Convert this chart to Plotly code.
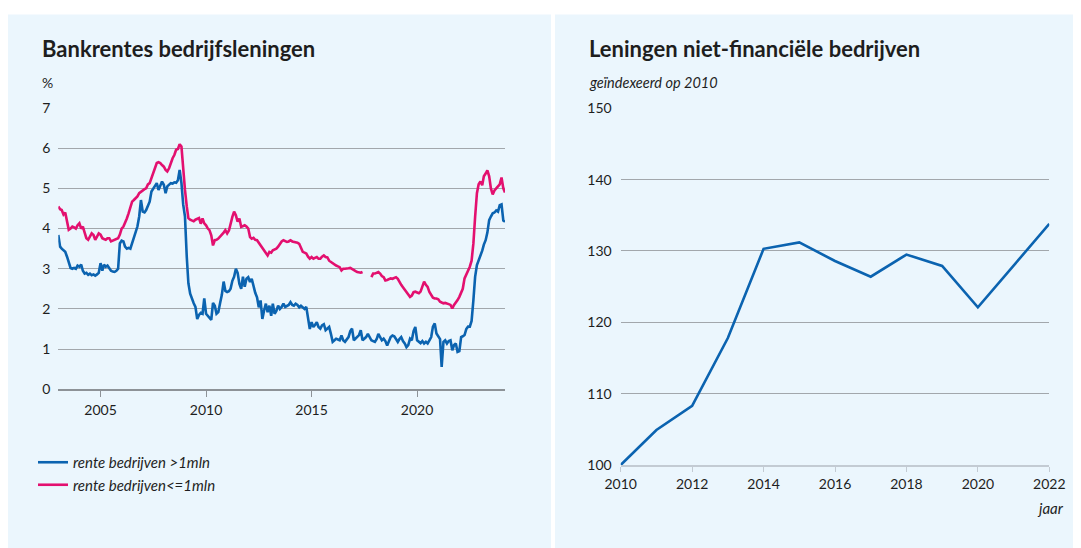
import pandas as pd
import plotly.graph_objects as go

# ---------------- data ----------------
# Left chart: monthly bank rates on business loans (%), Jan 2003 - Mar 2024
months = pd.date_range("2003-01-01", "2024-03-01", freq="MS")

rate_large = [  # rente bedrijven >1mln
    3.84, 3.55, 3.50, 3.45, 3.42, 3.30, 3.15, 3.02, 3.00, 3.02, 3.00, 3.08,  # 2003
    3.05, 3.10, 2.95, 2.88, 2.90, 2.85, 2.88, 2.84, 2.86, 2.83, 2.86, 2.90,  # 2004
    3.14, 2.95, 3.10, 3.05, 3.08, 3.00, 2.95, 2.93, 2.92, 2.95, 3.00, 3.63,  # 2005
    3.70, 3.68, 3.55, 3.50, 3.52, 3.50, 3.65, 3.80, 3.95, 4.05, 4.30, 4.71,  # 2006
    4.42, 4.40, 4.46, 4.55, 4.67, 4.92, 5.00, 5.05, 5.13, 4.96, 5.05, 5.17,  # 2007
    5.09, 4.88, 5.05, 5.10, 5.13, 5.12, 5.15, 5.14, 5.20, 5.46, 5.13, 4.60,  # 2008
    4.30, 3.30, 2.64, 2.38, 2.25, 2.14, 2.05, 1.75, 1.85, 1.90, 1.88, 2.26,  # 2009
    1.88, 1.82, 1.79, 1.73, 2.15, 2.08, 1.88, 1.92, 2.15, 2.35, 2.68, 2.45,  # 2010
    2.42, 2.44, 2.50, 2.70, 2.80, 3.00, 2.90, 2.62, 2.50, 2.80, 2.55, 2.75,  # 2011
    2.79, 2.67, 2.75, 2.54, 2.40, 2.29, 2.04, 2.21, 1.75, 1.96, 2.13, 1.92,  # 2012
    2.08, 1.83, 2.13, 1.88, 1.95, 2.08, 2.00, 2.05, 2.13, 2.05, 2.08, 2.10,  # 2013
    2.17, 2.10, 2.08, 2.13, 2.10, 2.04, 2.08, 2.05, 2.00, 2.05, 1.70, 1.50,  # 2014
    1.67, 1.55, 1.60, 1.67, 1.55, 1.51, 1.59, 1.62, 1.47, 1.50, 1.55, 1.38,  # 2015
    1.18, 1.22, 1.26, 1.24, 1.22, 1.34, 1.22, 1.18, 1.25, 1.30, 1.45, 1.51,  # 2016
    1.22, 1.26, 1.30, 1.35, 1.47, 1.22, 1.26, 1.30, 1.38, 1.30, 1.22, 1.20,  # 2017
    1.18, 1.25, 1.38, 1.30, 1.22, 1.26, 1.20, 1.09, 1.20, 1.30, 1.34, 1.32,  # 2018
    1.25, 1.18, 1.25, 1.30, 1.20, 1.14, 1.05, 1.10, 1.26, 1.22, 1.45, 1.55,  # 2019
    1.22, 1.18, 1.15, 1.20, 1.14, 1.18, 1.14, 1.22, 1.30, 1.56, 1.64, 1.39,  # 2020
    1.30, 1.25, 0.56, 1.18, 1.22, 1.14, 1.20, 1.22, 0.97, 1.10, 1.14, 0.93,  # 2021
    0.95, 1.30, 1.32, 1.35, 1.50, 1.56, 1.56, 1.70, 2.22, 2.80, 3.09, 3.20,  # 2022
    3.30, 3.45, 3.60, 3.71, 3.90, 4.21, 4.30, 4.38, 4.40, 4.45, 4.42, 4.58,  # 2023
    4.60, 4.20, 4.17,                                                        # 2024
]

rate_small = [  # rente bedrijven <=1mln
    4.55, 4.48, 4.46, 4.35, 4.40, 4.13, 3.97, 4.00, 4.05, 4.03, 4.00, 4.08,  # 2003
    4.13, 4.00, 4.05, 3.90, 3.76, 3.72, 3.80, 3.88, 3.84, 3.72, 3.80, 3.88,  # 2004
    3.85, 3.76, 3.74, 3.72, 3.76, 3.76, 3.68, 3.70, 3.72, 3.72, 3.76, 3.85,  # 2005
    4.00, 4.05, 4.13, 4.25, 4.38, 4.50, 4.67, 4.71, 4.75, 4.80, 4.88, 4.92,  # 2006
    4.96, 4.98, 5.00, 5.10, 5.13, 5.25, 5.38, 5.50, 5.63, 5.65, 5.63, 5.58,  # 2007
    5.54, 5.46, 5.42, 5.50, 5.63, 5.75, 5.83, 5.96, 5.98, 6.10, 6.04, 5.46,  # 2008
    4.96, 4.55, 4.26, 4.22, 4.20, 4.18, 4.22, 4.25, 4.26, 4.12, 4.25, 4.13,  # 2009
    4.08, 4.00, 3.96, 3.83, 3.58, 3.71, 3.72, 3.75, 3.80, 3.83, 3.90, 3.96,  # 2010
    3.88, 3.95, 4.13, 4.29, 4.42, 4.33, 4.17, 4.25, 4.04, 4.06, 4.08, 4.05,  # 2011
    4.00, 3.79, 3.75, 3.77, 3.72, 3.71, 3.65, 3.58, 3.50, 3.46, 3.40, 3.33,  # 2012
    3.42, 3.40, 3.46, 3.48, 3.50, 3.55, 3.63, 3.68, 3.71, 3.69, 3.67, 3.68,  # 2013
    3.71, 3.68, 3.67, 3.67, 3.65, 3.62, 3.54, 3.42, 3.40, 3.38, 3.30, 3.25,  # 2014
    3.29, 3.25, 3.27, 3.29, 3.25, 3.25, 3.30, 3.33, 3.29, 3.28, 3.20, 3.17,  # 2015
    3.12, 3.10, 3.08, 3.06, 3.04, 2.96, 3.00, 3.00, 3.00, 3.01, 3.02, 3.00,  # 2016
    2.96, 2.94, 2.92, 2.91, 2.90, 2.92, None, None, None, None, 2.79, 2.88,  # 2017
    2.88, 2.90, 2.92, 2.88, 2.82, 2.79, 2.71, 2.72, 2.75, 2.76, 2.75, 2.78,  # 2018
    2.79, 2.75, 2.67, 2.60, 2.54, 2.47, 2.42, 2.36, 2.30, 2.33, 2.42, 2.43,  # 2019
    2.41, 2.39, 2.43, 2.55, 2.68, 2.60, 2.55, 2.42, 2.34, 2.28, 2.26, 2.26,  # 2020
    2.24, 2.18, 2.16, 2.14, 2.15, 2.14, 2.12, 2.10, 2.01, 2.10, 2.15, 2.22,  # 2021
    2.30, 2.40, 2.50, 2.76, 2.85, 2.97, 3.05, 3.20, 3.63, 4.29, 4.88, 5.10,  # 2022
    5.17, 5.08, 5.30, 5.37, 5.45, 5.30, 5.00, 4.85, 4.95, 5.00, 5.05, 5.10,  # 2023
    5.27, 5.00, 4.90,                                                        # 2024
]

left_ticks_x = ["2005-01-01", "2010-01-01", "2015-01-01", "2020-01-01"]
left_ticks_x_text = ["2005", "2010", "2015", "2020"]
left_ticks_y = [0, 1, 2, 3, 4, 5, 6, 7]

# Right chart: loans to non-financial companies, index 2010 = 100
years = [2010, 2011, 2012, 2013, 2014, 2015, 2016, 2017, 2018, 2019, 2020, 2021, 2022]
loans_index = [100, 104.9, 108.3, 117.8, 130.3, 131.2, 128.6, 126.4, 129.5, 127.9, 122.1, 128.0, 133.8]
right_ticks_x = [2010, 2012, 2014, 2016, 2018, 2020, 2022]
right_ticks_y = [100, 110, 120, 130, 140, 150]

# ---------------- style ----------------
VIEW_W, VIEW_H = 1081, 548
OFF = 8                      # default page margin of the html body
W, H = VIEW_W - OFF, VIEW_H - OFF
BLUE = "#0b63b0"
PINK = "#e3106f"
PANEL = "#ebf6fd"
GRID = "#a2a7ac"
AXIS_L = "#8d9297"
AXIS_R = "#c3cbd3"
TXT = "#1e1e1e"
FONT = "Lato, 'Open Sans', sans-serif"


def px_x(p):
    """window pixel (x) -> paper fraction"""
    return (p - OFF) / W


def px_y(p):
    """window pixel (y, from top) -> paper fraction"""
    return 1 - (p - OFF) / H


fig = go.Figure()

fig.add_trace(go.Scatter(
    x=months, y=rate_large, mode="lines", name="rente bedrijven >1mln",
    line=dict(color=BLUE, width=2.6), connectgaps=False,
    xaxis="x", yaxis="y", legendgroup="a",
))
fig.add_trace(go.Scatter(
    x=months, y=rate_small, mode="lines", name="rente bedrijven<=1mln",
    line=dict(color=PINK, width=2.6), connectgaps=False,
    xaxis="x", yaxis="y", legendgroup="b",
))
fig.add_trace(go.Scatter(
    x=years, y=loans_index, mode="lines", name="leningen",
    line=dict(color=BLUE, width=2.6), showlegend=False,
    xaxis="x2", yaxis="y2",
))

# panel backgrounds
shapes = [
    dict(type="rect", xref="paper", yref="paper", layer="below",
         x0=px_x(8), x1=px_x(551), y0=px_y(549), y1=px_y(14.5),
         fillcolor=PANEL, line=dict(width=0)),
    dict(type="rect", xref="paper", yref="paper", layer="below",
         x0=px_x(555), x1=px_x(1082), y0=px_y(549), y1=px_y(14.5),
         fillcolor=PANEL, line=dict(width=0)),
]

annotations = [
    dict(text="<b>Bankrentes bedrijfsleningen</b>", xref="paper", yref="paper",
         x=px_x(40), y=px_y(48), xanchor="left", yanchor="middle", showarrow=False,
         font=dict(family=FONT, size=22, color=TXT)),
    dict(text="%", xref="paper", yref="paper",
         x=px_x(40), y=px_y(82), xanchor="left", yanchor="middle", showarrow=False,
         font=dict(family=FONT, size=14, color=TXT)),
    dict(text="<b>Leningen niet-financiële bedrijven</b>", xref="paper", yref="paper",
         x=px_x(587), y=px_y(48), xanchor="left", yanchor="middle", showarrow=False,
         font=dict(family=FONT, size=22, color=TXT)),
    dict(text="geïndexeerd op 2010", xref="paper", yref="paper",
         x=px_x(587), y=px_y(82), xanchor="left", yanchor="middle", showarrow=False,
         font=dict(family=FONT, size=14.5, color=TXT, style="italic")),
    dict(text="jaar", xref="paper", yref="paper",
         x=px_x(1050), y=px_y(508), xanchor="center", yanchor="middle", showarrow=False,
         font=dict(family=FONT, size=15, color=TXT, style="italic")),
]

fig.update_layout(
    width=W, height=H,
    margin=dict(l=0, r=0, t=0, b=0, pad=0, autoexpand=False),
    paper_bgcolor="white",
    plot_bgcolor="rgba(0,0,0,0)",
    font=dict(family=FONT, size=14, color=TXT),
    shapes=shapes,
    annotations=annotations,
    showlegend=True,
    legend=dict(
        x=px_x(33), y=px_y(446), xanchor="left", yanchor="top",
        bgcolor="rgba(0,0,0,0)", borderwidth=0,
        font=dict(family=FONT, size=15, color=TXT, style="italic"),
        itemwidth=30, tracegroupgap=0, traceorder="grouped",
    ),
    xaxis=dict(
        domain=[px_x(58.3), px_x(505)], anchor="y", type="date",
        range=["2003-01-01", "2024-03-01"],
        tickvals=left_ticks_x, ticktext=left_ticks_x_text,
        ticks="outside", ticklen=6, tickwidth=1, tickcolor=AXIS_L,
        showgrid=False, zeroline=False, automargin=False,
        showline=True, linecolor=AXIS_L, linewidth=2,
        ticklabelstandoff=1,
        tickfont=dict(family=FONT, size=14, color=TXT),
    ),
    yaxis=dict(
        domain=[px_y(389.3), px_y(108)], anchor="x",
        range=[0, 7], tickvals=left_ticks_y,
        showgrid=True, gridcolor=GRID, gridwidth=1,
        zeroline=False, showline=False, ticks="", automargin=False,
        ticklabelstandoff=7,
        tickfont=dict(family=FONT, size=14, color=TXT),
    ),
    xaxis2=dict(
        domain=[px_x(620.7), px_x(1049.3)], anchor="y2",
        range=[2010, 2022], tickvals=right_ticks_x,
        ticks="outside", ticklen=5, tickwidth=1, tickcolor=AXIS_R,
        showgrid=False, zeroline=False, automargin=False,
        showline=True, linecolor=AXIS_R, linewidth=2,
        layer="below traces",
        ticklabelstandoff=0,
        tickfont=dict(family=FONT, size=14, color=TXT),
    ),
    yaxis2=dict(
        domain=[px_y(465), px_y(108.3)], anchor="x2",
        range=[100, 150], tickvals=right_ticks_y,
        showgrid=True, gridcolor=GRID, gridwidth=1,
        zeroline=False, showline=False, ticks="", automargin=False,
        ticklabelstandoff=8,
        tickfont=dict(family=FONT, size=14, color=TXT),
    ),
)

fig.write_html("out.html")
